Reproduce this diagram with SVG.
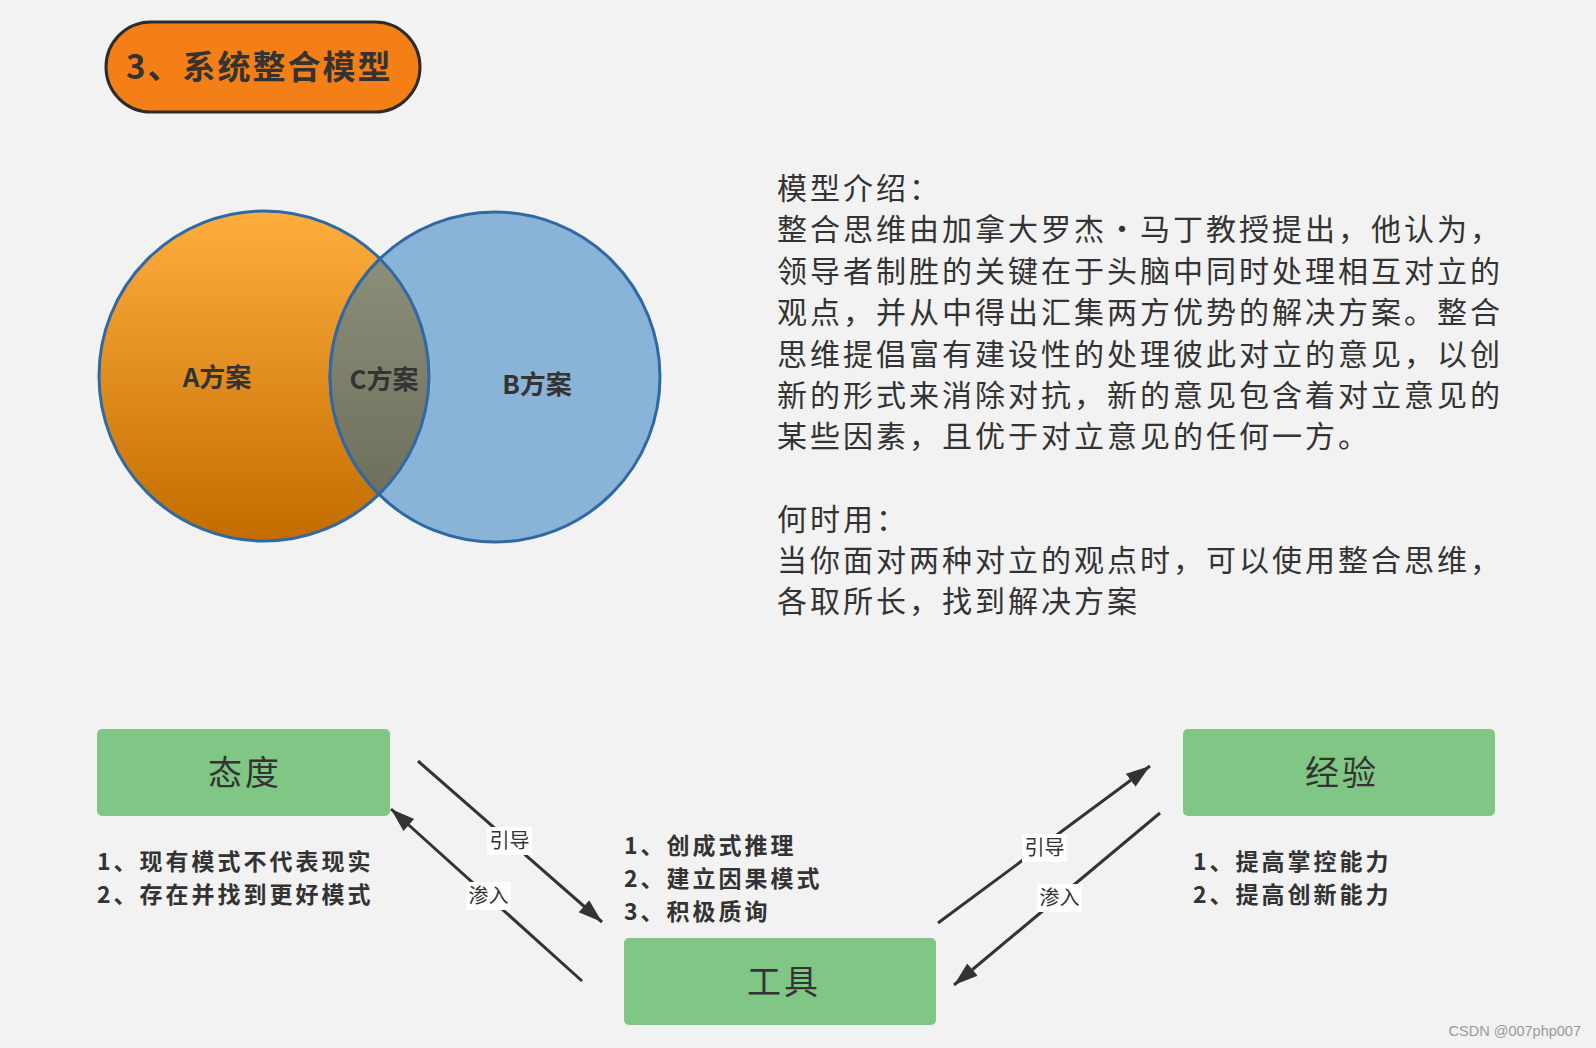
<svg xmlns="http://www.w3.org/2000/svg" width="1596" height="1048" viewBox="0 0 1596 1048">
<style>
.cjk{font-family:"Noto Sans CJK SC","Noto Sans",sans-serif;fill:#333}
.para{font-size:30px;letter-spacing:3px}
.list{font-size:23px;font-weight:bold;letter-spacing:3px}
.box{fill:#80C684}
.boxlabel{font-size:34px;letter-spacing:3px;fill:#333}
.venn{font-size:26px;font-weight:bold;text-anchor:middle}
.circ{stroke:#2F69A5;stroke-width:3}
.conn{stroke:#333;stroke-width:3;fill:none;marker-end:url(#arr)}
.lblbg{fill:#fff}
.lbl{font-size:20px;text-anchor:middle}
</style>
<defs>
<linearGradient id="gA" x1="0" y1="0" x2="0" y2="1">
<stop offset="0" stop-color="#FFAE3E"/>
<stop offset="1" stop-color="#C26C00"/>
</linearGradient>
<linearGradient id="gC" x1="0" y1="0" x2="0" y2="1">
<stop offset="0" stop-color="#8C8E7A"/>
<stop offset="1" stop-color="#6F705C"/>
</linearGradient>
<marker id="arr" markerUnits="userSpaceOnUse" markerWidth="26" markerHeight="18" refX="24" refY="8" orient="auto">
<path d="M0,0 L24,8 L0,16 z" fill="#333"/>
</marker>
</defs>
<rect width="1596" height="1048" fill="#F2F2F2"/>

<g id="title">
<rect x="106" y="22" width="314" height="90" rx="45" fill="#F47F17" stroke="#2C2C2C" stroke-width="3"/>
<text class="cjk" x="126" y="79" font-size="33" font-weight="bold" letter-spacing="2">3、系统整合模型</text>
</g>

<g id="venn">
<g id="venn-a">
<circle class="circ" cx="264" cy="376" r="165" fill="url(#gA)"/>
</g>
<g id="venn-b">
<circle class="circ" cx="495" cy="377" r="165" fill="#89B3D7"/>
</g>
<g id="venn-c">
<path class="circ" d="M380,258.7 A165,165 0 0 1 379,494.3 A165,165 0 0 1 380,258.7 Z" fill="url(#gC)"/>
</g>
<text class="cjk venn" x="217" y="387">A方案</text>
<text class="cjk venn" x="384" y="389">C方案</text>
<text class="cjk venn" x="537" y="394">B方案</text>
</g>

<g id="intro" class="cjk para">
<text x="777" y="199">模型介绍：</text>
<text x="777" y="240.4">整合思维由加拿大罗杰•马丁教授提出，他认为，</text>
<text x="777" y="281.8">领导者制胜的关键在于头脑中同时处理相互对立的</text>
<text x="777" y="323.2">观点，并从中得出汇集两方优势的解决方案。整合</text>
<text x="777" y="364.6">思维提倡富有建设性的处理彼此对立的意见，以创</text>
<text x="777" y="406">新的形式来消除对抗，新的意见包含着对立意见的</text>
<text x="777" y="447.4">某些因素，且优于对立意见的任何一方。</text>
<text x="777" y="529.6">何时用：</text>
<text x="777" y="571">当你面对两种对立的观点时，可以使用整合思维，</text>
<text x="777" y="612.4">各取所长，找到解决方案</text>
</g>

<g id="node-taidu">
<rect class="box" x="97" y="729" width="293" height="87" rx="5"/>
<text class="cjk boxlabel" x="208" y="784.5">态度</text>
</g>
<g id="node-gongju">
<rect class="box" x="624" y="938" width="312" height="87" rx="5"/>
<text class="cjk boxlabel" x="747" y="994">工具</text>
</g>
<g id="node-jingyan">
<rect class="box" x="1183" y="729" width="312" height="87" rx="5"/>
<text class="cjk boxlabel" x="1305" y="784.5">经验</text>
</g>

<g id="list-taidu" class="cjk list">
<text x="97" y="869.5">1、现有模式不代表现实</text>
<text x="97" y="903">2、存在并找到更好模式</text>
</g>
<g id="list-gongju" class="cjk list">
<text x="624" y="853.5">1、创成式推理</text>
<text x="624" y="887">2、建立因果模式</text>
<text x="624" y="919.5">3、积极质询</text>
</g>
<g id="list-jingyan" class="cjk list">
<text x="1193" y="869.5">1、提高掌控能力</text>
<text x="1193" y="903">2、提高创新能力</text>
</g>

<g id="connectors">
<line class="conn" x1="418" y1="761" x2="602" y2="922"/>
<line class="conn" x1="582" y1="981" x2="391" y2="809"/>
<line class="conn" x1="938" y1="923" x2="1150" y2="766"/>
<line class="conn" x1="1160" y1="813" x2="954" y2="985"/>
<rect class="lblbg" x="487" y="827" width="45" height="28"/>
<text class="cjk lbl" x="509.5" y="848">引导</text>
<rect class="lblbg" x="466" y="882" width="45" height="28"/>
<text class="cjk lbl" x="488.5" y="903">渗入</text>
<rect class="lblbg" x="1022" y="834" width="45" height="28"/>
<text class="cjk lbl" x="1044.5" y="855">引导</text>
<rect class="lblbg" x="1037" y="884" width="45" height="28"/>
<text class="cjk lbl" x="1059.5" y="905">渗入</text>
</g>

<text x="1581" y="1036" font-family="Liberation Sans, Arial, sans-serif" font-size="14.5" fill="#9A9A9A" text-anchor="end">CSDN @007php007</text>
</svg>
